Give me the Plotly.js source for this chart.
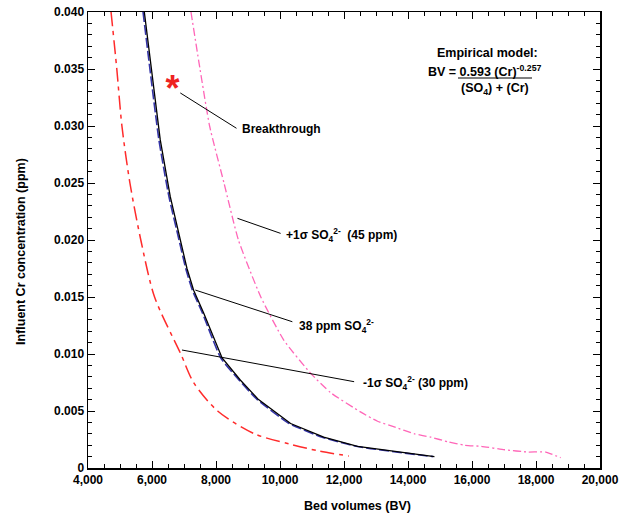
<!DOCTYPE html>
<html>
<head>
<meta charset="utf-8">
<script src="https://cdn.plot.ly/plotly-3.0.1.min.js"></script>
<style>html,body{margin:0;padding:0;background:#fff;}#chart{width:631px;height:516px;}</style>
</head>
<body>
<div id="chart"></div>
<script>
// -1 sigma SO4 (30 ppm), red dash-dot
const bvMinus = [4720, 4900, 5060, 5310, 5650, 6080, 6900, 7300, 8050, 9200, 10300, 11200, 12150];
const crMinus = [0.040, 0.035, 0.030, 0.025, 0.020, 0.015, 0.010, 0.0075, 0.005, 0.0030, 0.0021, 0.0015, 0.00105];
// 38 ppm SO4, black solid
const bv38 = [5760, 5975, 6257, 6571, 6884, 7093, 7301, 7614, 8191, 8765, 9329, 10332, 11366, 12423, 14826];
const cr38 = [0.040, 0.035, 0.0288, 0.0238, 0.0200, 0.0175, 0.0156, 0.0136, 0.00965, 0.0077, 0.0060, 0.0039, 0.0027, 0.0019, 0.0010];
// empirical model for 38 ppm, blue long dash
const bvModel = [5720, 5935, 6215, 6530, 6845, 7055, 7262, 7575, 8150, 8725, 9290, 10290, 11320, 12380, 14780];
const crModel = [0.040, 0.035, 0.0288, 0.0238, 0.0200, 0.0175, 0.0156, 0.0136, 0.00965, 0.0077, 0.0060, 0.0039, 0.0027, 0.0019, 0.0010];
// +1 sigma SO4 (45 ppm), pink dash-dot
const bvPlus = [7218, 7500, 7800, 8250, 8700, 9400, 10122, 10959, 11587, 12527, 13049, 13571, 14200, 14722, 15243, 15766, 16290, 17020, 17751, 18300, 18770];
const crPlus = [0.040, 0.035, 0.030, 0.025, 0.020, 0.015, 0.0112, 0.0083, 0.0066, 0.0049, 0.0041, 0.0036, 0.0030, 0.0027, 0.0023, 0.0020, 0.0019, 0.0016, 0.0014, 0.0014, 0.0009];
// breakthrough point
const bvBreak = [6640];
const crBreak = [0.0330];
// ticks
const xTickVals = [4000, 6000, 8000, 10000, 12000, 14000, 16000, 18000, 20000];
const xTickText = ['4,000', '6,000', '8,000', '10,000', '12,000', '14,000', '16,000', '18,000', '20,000'];
const yTickVals = [0, 0.005, 0.010, 0.015, 0.020, 0.025, 0.030, 0.035, 0.040];
const yTickText = ['0', '0.005', '0.010', '0.015', '0.020', '0.025', '0.030', '0.035', '0.040'];

const FONT = 'Liberation Sans, Arial, sans-serif';

const traces = [
  {x: bvMinus, y: crMinus, mode: 'lines', line: {color: '#ff2b2b', width: 1.5, dash: '14px,5px,4px,5px', shape: 'spline', smoothing: 0.8}},
  {x: bvPlus, y: crPlus, mode: 'lines', line: {color: '#ff66b8', width: 1.3, dash: '8px,3px,2px,3px', shape: 'spline', smoothing: 0.5}},
  {x: bvModel, y: crModel, mode: 'lines', line: {color: '#3434a8', width: 1.6, dash: '10px,3px', shape: 'spline', smoothing: 0.5}},
  {x: bv38, y: cr38, mode: 'lines', line: {color: '#000000', width: 1.3}},
  {x: bvBreak, y: crBreak, mode: 'text', text: ['*'], textposition: 'middle center',
   textfont: {family: FONT, size: 36, color: '#ee2222', weight: 'bold'}}
];

const lab = (x, y, t) => ({x: x, y: y, xref: 'x', yref: 'y', text: t, showarrow: false, xanchor: 'left', yanchor: 'middle',
  font: {family: FONT, size: 12, color: '#000', weight: 'bold'}});
const seg = (x0, y0, x1, y1) => ({type: 'line', xref: 'x', yref: 'y', x0: x0, y0: y0, x1: x1, y1: y1, line: {color: '#000', width: 1}});

const layout = {
  width: 631, height: 516,
  margin: {l: 88, r: 31, t: 12, b: 48},
  paper_bgcolor: '#fff', plot_bgcolor: '#fff',
  showlegend: false,
  font: {family: FONT, color: '#000'},
  xaxis: {
    range: [4000, 20000], showgrid: false, zeroline: false,
    showline: true, linecolor: '#000', linewidth: 1.5, mirror: 'ticks',
    ticks: 'inside', ticklen: 7, tickwidth: 1, tickcolor: '#000',
    tickvals: xTickVals, ticktext: xTickText,
    tickfont: {family: FONT, size: 12, color: '#000', weight: 'bold'},
    minor: {dtick: 500, ticks: 'inside', ticklen: 4, tickwidth: 1, tickcolor: '#000'}
  },
  yaxis: {
    range: [0, 0.04], showgrid: false, zeroline: false,
    showline: true, linecolor: '#000', linewidth: 1.5, mirror: 'ticks',
    ticks: 'inside', ticklen: 7, tickwidth: 1, tickcolor: '#000',
    tickvals: yTickVals, ticktext: yTickText,
    tickfont: {family: FONT, size: 12, color: '#000', weight: 'bold'},
    minor: {dtick: 0.001, ticks: 'inside', ticklen: 4, tickwidth: 1, tickcolor: '#000'}
  },
  shapes: [
    seg(6884, 0.0329, 8640, 0.0298),
    seg(8671, 0.0219, 10019, 0.02058),
    seg(7354, 0.01561, 10386, 0.01283),
    seg(6937, 0.01035, 12317, 0.00757),
    {type: 'line', xref: 'paper', yref: 'paper', x0: (458 - 88) / 512, x1: (532 - 88) / 512, y0: (468 - 78) / 456, y1: (468 - 78) / 456, line: {color: '#000', width: 1}}
  ],
  annotations: [
    lab(8765, 0.0297, 'Breakthrough'),
    lab(10122, 0.0204, '+1σ SO<sub>4</sub><sup>2-</sup>  (45 ppm)'),
    lab(10539, 0.01246, '38 ppm SO<sub>4</sub><sup>2-</sup>'),
    lab(12527, 0.00743, '-1σ SO<sub>4</sub><sup>2-</sup> (30 ppm)'),
    {xref: 'paper', yref: 'paper', x: (487 - 88) / 512, y: (468 - 53) / 456, text: 'Empirical model:', showarrow: false,
     xanchor: 'center', yanchor: 'middle', font: {family: FONT, size: 12.5, color: '#000', weight: 'bold'}},
    {xref: 'paper', yref: 'paper', x: (485 - 88) / 512, y: (468 - 71) / 456, text: 'BV = 0.593 (Cr)<sup>-0.257</sup>', showarrow: false,
     xanchor: 'center', yanchor: 'middle', font: {family: FONT, size: 12.5, color: '#000', weight: 'bold'}},
    {xref: 'paper', yref: 'paper', x: (495 - 88) / 512, y: (468 - 89) / 456, text: '(SO<sub>4</sub>) + (Cr)', showarrow: false,
     xanchor: 'center', yanchor: 'middle', font: {family: FONT, size: 12.5, color: '#000', weight: 'bold'}},
    {xref: 'paper', yref: 'paper', x: (357 - 88) / 512, y: (468 - 506) / 456, text: 'Bed volumes (BV)', showarrow: false,
     xanchor: 'center', yanchor: 'middle', font: {family: FONT, size: 12.5, color: '#000', weight: 'bold'}},
    {xref: 'paper', yref: 'paper', x: (21 - 88) / 512, y: (468 - 252) / 456, text: 'Influent Cr concentration (ppm)', showarrow: false,
     textangle: -90, xanchor: 'center', yanchor: 'middle', font: {family: FONT, size: 12.5, color: '#000', weight: 'bold'}}
  ]
};

Plotly.newPlot('chart', traces, layout, {displayModeBar: false, staticPlot: true});
</script>
</body>
</html>
